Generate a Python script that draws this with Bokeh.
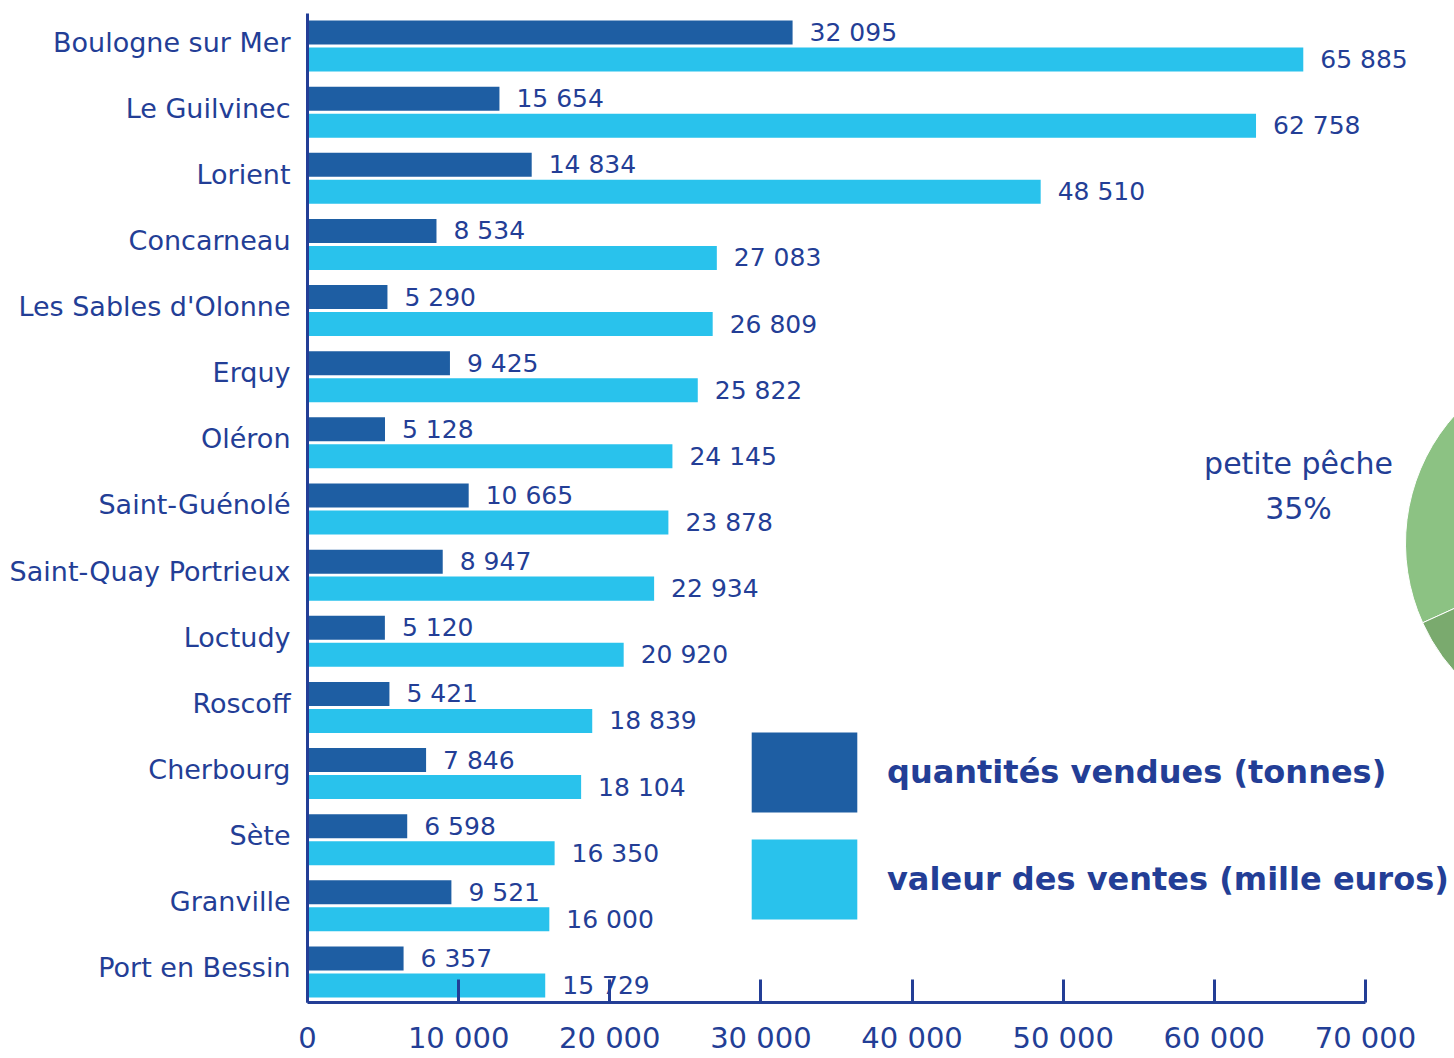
from bokeh.plotting import figure
from bokeh.models import Range1d, FixedTicker, LinearAxis, Legend, LegendItem, ColumnDataSource
from bokeh.core.properties import value
from bokeh.embed import file_html
from bokeh.resources import INLINE

# ---------------- data ----------------
ports = ["Boulogne sur Mer", "Le Guilvinec", "Lorient", "Concarneau",
         "Les Sables d'Olonne", "Erquy", "Oléron", "Saint-Guénolé",
         "Saint-Quay Portrieux", "Loctudy", "Roscoff", "Cherbourg",
         "Sète", "Granville", "Port en Bessin"]
# printed values (labels)
quantites = [32095, 15654, 14834, 8534, 5290, 9425, 5128, 10665,
             8947, 5120, 5421, 7846, 6598, 9521, 6357]
valeurs = [65885, 62758, 48510, 27083, 26809, 25822, 24145, 23878,
           22934, 20920, 18839, 18104, 16350, 16000, 15729]
# bar lengths as drawn in the picture (Le Guilvinec's bar is drawn shorter than its label)
quantites_barres = [32095, 12700, 14834, 8534, 5290, 9425, 5128, 10665,
                    8947, 5120, 5421, 7846, 6598, 9521, 6357]
series_names = ["quantités vendues (tonnes)", "valeur des ventes (mille euros)"]
x_ticks = [0, 10000, 20000, 30000, 40000, 50000, 60000, 70000]
x_tick_labels = ["0", "10 000", "20 000", "30 000", "40 000", "50 000", "60 000", "70 000"]
pie_labels = ["petite pêche", "autre"]
pie_pct = [35, 13]

# ---------------- style ----------------
TXT = "#233e96"
DARK = "#1e5ea3"
LIGHT = "#29c2ec"
GREENS = ["#8cc283", "#7aaa6e"]
FONT = "DejaVu Sans"

def fmt(v):
    return f"{v:,}".replace(",", " ")

n = len(ports)
idx = list(range(n))
dark_y = [i - 0.1436 for i in idx]
light_y = [i + 0.2646 for i in idx]
bar_h = 0.363

p = figure(width=1454, height=1058, output_backend="svg", toolbar_location=None,
           x_range=Range1d(0, 75890), y_range=Range1d(14.522, -0.4309),
           min_border_left=307, min_border_right=0, min_border_top=13,
           min_border_bottom=56, x_axis_location=None, y_axis_location=None)
p.outline_line_color = None
p.xgrid.visible = False
p.ygrid.visible = False
p.background_fill_color = "white"

src_d = ColumnDataSource(dict(y=dark_y, v=quantites_barres, t=[fmt(v) for v in quantites]))
src_l = ColumnDataSource(dict(y=light_y, v=valeurs, t=[fmt(v) for v in valeurs]))

r_dark = p.hbar(y="y", left=0, right="v", height=bar_h, source=src_d,
                fill_color=DARK, line_color=None)
r_light = p.hbar(y="y", left=0, right="v", height=bar_h, source=src_l,
                 fill_color=LIGHT, line_color=None)

for src in (src_d, src_l):
    p.text(x="v", y="y", text="t", source=src, x_offset=17, text_baseline="middle",
           text_align="left", text_color=TXT, text_font=value(FONT),
           text_font_size="25px")

# pie (partially visible at the right edge)
start = 204.4 - pie_pct[0] * 3.6
angles = []
a = start
for pct in pie_pct:
    angles.append((a, a + pct * 3.6))
    a += pct * 3.6
pie_src = ColumnDataSource(dict(
    x=[85351] * len(pie_pct), y=[7.582] * len(pie_pct),
    s=[v[0] for v in angles], e=[v[1] for v in angles], c=GREENS[:len(pie_pct)]))
p.wedge(x="x", y="y", radius=192, radius_units="screen", start_angle="s",
        end_angle="e", start_angle_units="deg", end_angle_units="deg",
        fill_color="c", line_color="white", line_width=1, source=pie_src)
p.text(x=[65569, 65569], y=[6.373, 7.053], text=[pie_labels[0], f"{pie_pct[0]}%"],
       text_align="center", text_baseline="middle", text_color=TXT,
       text_font=value(FONT), text_font_size="30px")

# axes
yax = LinearAxis(ticker=FixedTicker(ticks=idx),
                 major_label_overrides={i: ports[i] for i in idx})
yax.axis_line_color = TXT
yax.axis_line_width = 3
yax.major_tick_in = 0
yax.major_tick_out = 0
yax.minor_tick_line_color = None
yax.major_label_standoff = 17
yax.major_label_text_font = FONT
yax.major_label_text_font_size = "27px"
yax.major_label_text_color = TXT
p.add_layout(yax, "left")

xax = LinearAxis(ticker=FixedTicker(ticks=x_ticks),
                 major_label_overrides={t: l for t, l in zip(x_ticks, x_tick_labels)},
                 bounds=(x_ticks[0], x_ticks[-1]))
xax.axis_line_color = TXT
xax.axis_line_width = 3
xax.major_tick_line_color = TXT
xax.major_tick_line_width = 3
xax.major_tick_in = 23
xax.major_tick_out = 0
xax.minor_tick_line_color = None
xax.major_label_standoff = 18
xax.major_label_text_font = FONT
xax.major_label_text_font_size = "29px"
xax.major_label_text_color = TXT
p.add_layout(xax, "below")

legend = Legend(items=[LegendItem(label=series_names[0], renderers=[r_dark]),
                       LegendItem(label=series_names[1], renderers=[r_light])],
                location=(431, 73), orientation="vertical",
                glyph_width=132, glyph_height=100, spacing=7, label_standoff=17,
                padding=0, margin=0, border_line_color=None,
                background_fill_alpha=0, label_text_font=FONT,
                label_text_font_style="bold", label_text_font_size="32px",
                label_text_color=TXT)
p.add_layout(legend, "center")

open("out.html", "w").write(file_html(p, INLINE))
